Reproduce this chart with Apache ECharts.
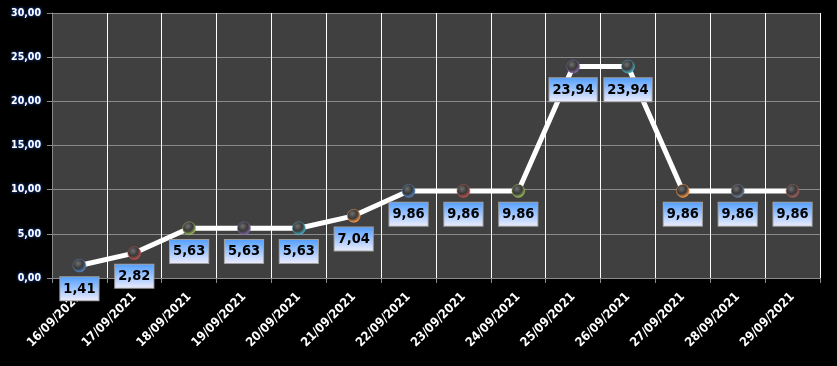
<!DOCTYPE html>
<html><head><meta charset="utf-8">
<script src="https://cdn.jsdelivr.net/npm/echarts@6/dist/echarts.min.js"></script>
<style>html,body{margin:0;padding:0;background:#000}#c{width:837px;height:366px}</style>
</head><body><div id="c"></div>
<script>
const categories = ['16/09/2021','17/09/2021','18/09/2021','19/09/2021','20/09/2021','21/09/2021','22/09/2021','23/09/2021','24/09/2021','25/09/2021','26/09/2021','27/09/2021','28/09/2021','29/09/2021'];
const values = [1.41, 2.82, 5.63, 5.63, 5.63, 7.04, 9.86, 9.86, 9.86, 23.94, 23.94, 9.86, 9.86, 9.86];
const markerRims = ['#4f81bd','#c0504d','#9bbb59','#8064a2','#4bacc6','#f79646','#4f81bd','#c0504d','#9bbb59','#8064a2','#4bacc6','#f79646','#6f7f9f','#a06060'];
const yTicks = {min: 0, max: 30, interval: 5};

const fmt = v => v.toFixed(2).replace('.', ',');
const FONT = '"DejaVu Sans Condensed", "DejaVu Sans", sans-serif';
const chart = echarts.init(document.getElementById('c'));
chart.setOption({
  backgroundColor: '#000',
  animation: false,
  grid: {left: 52, right: 17, top: 13, bottom: 88, show: true, backgroundColor: '#404040', borderWidth: 0},
  xAxis: {
    type: 'category', data: categories, boundaryGap: true,
    axisLine: {lineStyle: {color: '#8a8a8a', width: 1}},
    axisTick: {show: true, interval: 0, length: 5, lineStyle: {color: '#8a8a8a'}},
    splitLine: {show: true, interval: 0, lineStyle: {color: '#ffffff', width: 1}},
    axisLabel: {interval: 0, rotate: 45, color: '#ffffff', fontWeight: 'bold', fontSize: 12.5, fontFamily: FONT, margin: 17}
  },
  yAxis: {
    type: 'value', min: yTicks.min, max: yTicks.max, interval: yTicks.interval,
    axisLine: {show: true, lineStyle: {color: '#8a8a8a'}},
    axisTick: {show: true, length: 5, lineStyle: {color: '#8a8a8a'}},
    splitLine: {show: true, lineStyle: {color: '#8a8a8a', width: 1}},
    axisLabel: {color: '#ffffff', fontWeight: 'bold', fontSize: 10.5, fontFamily: FONT, margin: 11,
      textShadowColor: '#2a6cff', textShadowBlur: 3, formatter: v => fmt(v)}
  },
  series: [{
    type: 'line',
    data: values.map((v, i) => ({
      value: v,
      itemStyle: {
        color: new echarts.graphic.RadialGradient(0.4, 0.35, 0.65, [
          {offset: 0, color: '#707070'}, {offset: 0.55, color: '#383838'}, {offset: 1, color: markerRims[i]}
        ]),
        borderColor: markerRims[i], borderWidth: 0.5
      }
    })),
    lineStyle: {color: '#ffffff', width: 5},
    symbol: 'circle', symbolSize: 13,
    z: 3,
    label: {
      show: true, position: 'bottom', distance: 5,
      formatter: p => fmt(p.value),
      color: '#000', fontWeight: 'bold', fontSize: 14.5, fontFamily: FONT,
      lineHeight: 17,
      padding: [3, 3, 3, 3],
      borderColor: '#a0a0a0', borderWidth: 1,
      backgroundColor: new echarts.graphic.LinearGradient(0, 0, 0, 1, [
        {offset: 0, color: '#4f9dff'}, {offset: 1, color: '#f0eefc'}
      ])
    }
  }]
});
</script></body></html>
